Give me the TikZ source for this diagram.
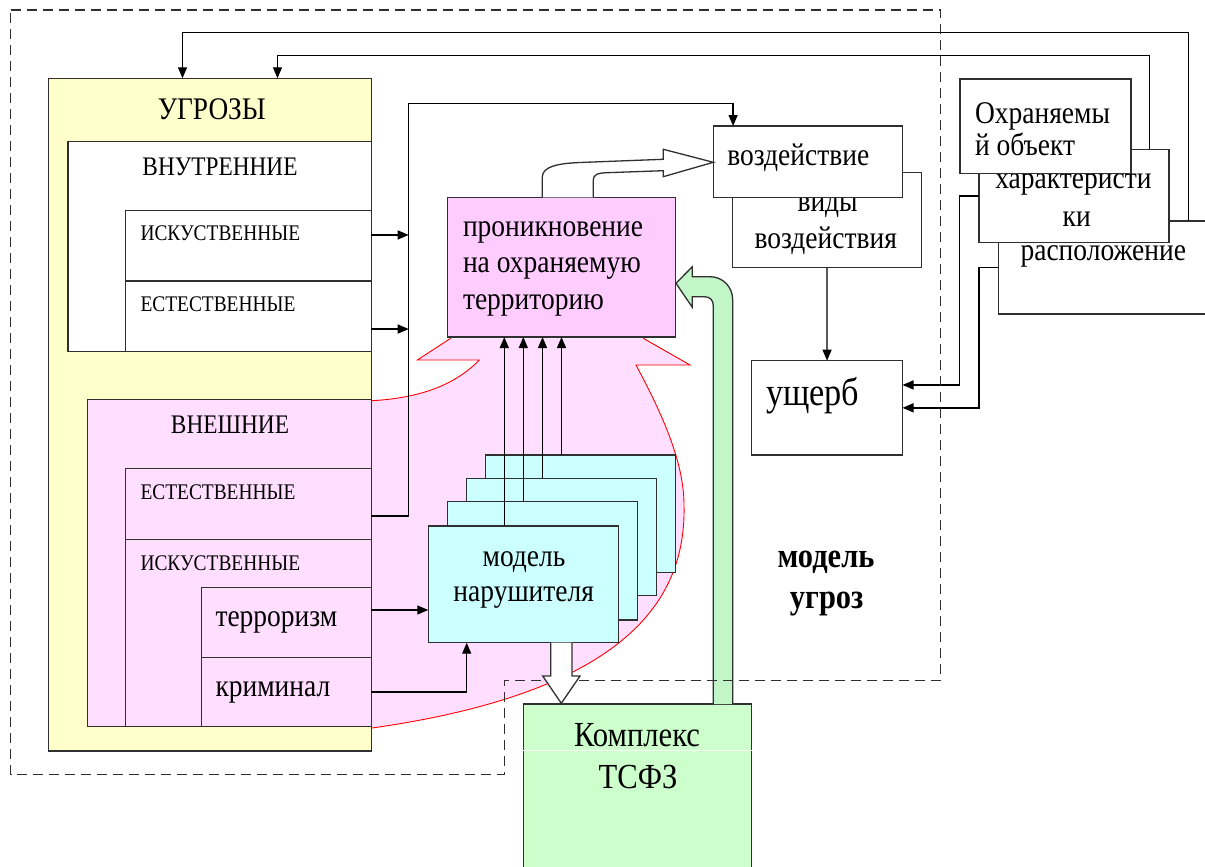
\documentclass[tikz,border=0pt]{standalone}
\usepackage{fontspec}
\setmainfont{Liberation Serif}[FakeStretch=0.87]
\usetikzlibrary{arrows.meta}
\definecolor{yel}{HTML}{FFFFCC}
\definecolor{pinkA}{HTML}{FFCCFF}
\definecolor{pinkB}{HTML}{FFDEFF}
\definecolor{cyanA}{HTML}{CCFFFF}
\definecolor{greenA}{HTML}{CCFFCC}
\definecolor{greenB}{HTML}{C2F5C8}
\definecolor{lineC}{HTML}{303030}
\begin{document}
\begin{tikzpicture}[x=1pt,y=-1pt,
  box/.style={draw=lineC, line width=1.3pt, inner sep=0pt, outer sep=0pt, anchor=north west},
  lbl/.style={inner sep=0pt, outer sep=0pt, anchor=base west, font=\fontsize{31.6}{36}\selectfont},
  clbl/.style={lbl, anchor=base},
  capsT/.style={inner sep=0pt, outer sep=0pt, anchor=base west, font=\fontsize{22.3}{26}\selectfont},
  midT/.style={inner sep=0pt, outer sep=0pt, anchor=base, font=\fontsize{26.8}{30}\selectfont},
  ugrT/.style={inner sep=0pt, outer sep=0pt, anchor=base, font=\fontsize{31.4}{36}\selectfont},
  bigT/.style={inner sep=0pt, outer sep=0pt, anchor=base west, font=\fontsize{39.4}{44}\selectfont},
  komT/.style={inner sep=0pt, outer sep=0pt, anchor=base, font=\fontsize{35.2}{40}\selectfont},
  boldT/.style={inner sep=0pt, outer sep=0pt, anchor=base, font=\bfseries\fontsize{35}{40}\selectfont},
  conn/.style={draw=black, line width=1.3pt},
  arr/.style={conn, -{Triangle[length=11pt,width=9pt]}},
  hollow/.style={draw=lineC, line width=1.3pt, fill=white, line join=miter},
  dashbound/.style={draw=lineC, line width=1.2pt, dash pattern=on 10pt off 6pt},
]
\useasboundingbox (0,0) rectangle (1205,867);
\clip (0,0) rectangle (1205,867);
\fill[white] (0,0) rectangle (1205,867);

% pink blob
\fill[pinkB] (372,400.7) .. controls (420,398) and (455,385) .. (479.3,360) -- (417.3,360) -- (450.7,338.3)
  -- (643.3,338.3) -- (690,365) -- (636,365) .. controls (660,410) and (684,460) .. (684,505)
  .. controls (686,590) and (640,690) .. (372,728) -- cycle;
\draw[red, line width=0.9pt] (372,400.7) .. controls (420,398) and (455,385) .. (479.3,360) -- (417.3,360) -- (450.7,338.3);
\draw[red, line width=0.9pt] (643.3,338.3) -- (690,365) -- (636,365) .. controls (660,410) and (684,460) .. (684,505)
  .. controls (686,590) and (640,690) .. (372,728);

% threats block
\node[box, fill=yel, minimum width=322.6pt, minimum height=672.7pt] (ugr) at (48.6,78.3) {};
\node[box, fill=white, minimum width=303.1pt, minimum height=210.4pt] (vnut) at (68.1,141.3) {};
\node[box, fill=white, minimum width=245.7pt, minimum height=70.7pt] (isk1) at (125.5,210.3) {};
\node[box, fill=white, minimum width=245.7pt, minimum height=70.7pt] (est1) at (125.5,281) {};
\node[box, fill=pinkB, minimum width=283.9pt, minimum height=327.4pt] (vnesh) at (87.3,399.3) {};
\node[box, fill=pinkB, minimum width=245.7pt, minimum height=71pt] (est2) at (125.5,468.3) {};
\node[box, fill=pinkB, minimum width=245.7pt, minimum height=187.4pt] (isk2) at (125.5,539.3) {};
\node[box, fill=pinkB, minimum width=169.5pt, minimum height=70pt] (terr) at (201.7,587.3) {};
\node[box, fill=pinkB, minimum width=169.5pt, minimum height=69.4pt] (krim) at (201.7,657.3) {};

\node[ugrT] (tU) at (211.8,119.3) {УГРОЗЫ};
\node[midT] (tV) at (220,175.5) {ВНУТРЕННИЕ};
\node[capsT] (tI1) at (140.5,240.7) {ИСКУСТВЕННЫЕ};
\node[capsT] (tE1) at (140.5,311.7) {ЕСТЕСТВЕННЫЕ};
\node[midT] (tVn) at (230,433.3) {ВНЕШНИЕ};
\node[capsT] (tE2) at (140.5,499.3) {ЕСТЕСТВЕННЫЕ};
\node[capsT] (tI2) at (140.5,570) {ИСКУСТВЕННЫЕ};
\node[lbl] (tT) at (215.5,626) {терроризм};
\node[lbl] (tK) at (215.5,696.7) {криминал};

% penetration box
\node[box, fill=pinkA, minimum width=228.4pt, minimum height=139.7pt] (pron) at (447.3,197.3) {};
\node[lbl] (tP1) at (463,236) {проникновение};
\node[lbl] (tP2) at (463,272.7) {на охраняемую};
\node[lbl] (tP3) at (463,309.3) {территорию};

% intruder models
\node[box, fill=cyanA, minimum width=190pt, minimum height=117.3pt] (m4) at (485.7,455) {};
\node[box, fill=cyanA, minimum width=190pt, minimum height=117pt] (m3) at (466.7,478.3) {};
\node[box, fill=cyanA, minimum width=190.4pt, minimum height=118.3pt] (m2) at (447.3,501.7) {};
\node[box, fill=cyanA, minimum width=190.4pt, minimum height=116.7pt] (m1) at (428.3,526) {};
\node[clbl] (tM1) at (524,566) {модель};
\node[clbl] (tM2) at (523.7,601.7) {нарушителя};

\draw[arr] ([xshift=76pt]m1.north west) -- ([xshift=76pt]m1.north west |- pron.south);
\draw[arr] ([xshift=76pt]m2.north west) -- ([xshift=76pt]m2.north west |- pron.south);
\draw[arr] ([xshift=75.8pt]m3.north west) -- ([xshift=75.8pt]m3.north west |- pron.south);
\draw[arr] ([xshift=75.8pt]m4.north west) -- ([xshift=75.8pt]m4.north west |- pron.south);

% impact boxes
\node[box, fill=white, minimum width=188.7pt, minimum height=95.4pt] (vidy) at (732.7,172.3) {};
\node[clbl] (tVi1) at (827.6,211.7) {виды};
\node[clbl] (tVi2) at (825.7,248.3) {воздействия};
\node[box, fill=white, minimum width=188.7pt, minimum height=71.3pt] (vozd) at (713.8,126) {};
\node[lbl] (tVo) at (727.3,165) {воздействие};

% hollow arrow penetration -> impact
\path[hollow] (542.3,197.3) -- (542.3,177) .. controls (542.3,166) and (560,163.3) .. (580,162.5)
  -- (663.3,159.3) -- (663.3,149.3) -- (713.3,162.3) -- (663.3,176.7) -- (663.3,170.7)
  -- (607,172.7) .. controls (597,173) and (593.3,175) .. (593.3,180) -- (593.3,197.3);

% damage
\node[box, fill=white, minimum width=150.9pt, minimum height=94.3pt] (ush) at (751.6,360.7) {};
\node[bigT] (tUs) at (766,405) {ущерб};

% protected object boxes
\node[box, fill=white, minimum width=220pt, minimum height=93pt] (ras) at (998.3,221) {};
\node[clbl] (tR) at (1103.3,260) {расположение};
\node[box, fill=white, minimum width=190pt, minimum height=93.4pt] (har) at (979,149.3) {};
\node[clbl] (tH1) at (1073.4,188.3) {характеристи};
\node[clbl] (tH2) at (1076.7,226.7) {ки};
\node[box, fill=white, minimum width=171pt, minimum height=94.3pt] (ohr) at (960,79) {};
\node[lbl] (tO1) at (975,123.3) {Охраняемы};
\node[lbl] (tO2) at (975,155) {й объект};

% model of threats label
\node[boldT] (tMU1) at (826,567.3) {модель};
\node[boldT] (tMU2) at (826.7,608.3) {угроз};

% connectors
\coordinate (busTop) at (408.7,103.3);
\draw[arr] ([yshift=10.7pt]isk1.east) -- ([yshift=10.7pt]isk1.east -| busTop);
\draw[arr] ([yshift=-12.7pt]est1.east) -- ([yshift=-12.7pt]est1.east -| busTop);
\draw[arr] ([yshift=-12.2pt]est2.east) -| (busTop) -| ([xshift=19.3pt]vozd.north west);
\draw[arr] ([yshift=12.3pt]terr.east) -- ([yshift=12.3pt]terr.east -| m1.west);
\draw[arr] (krim.east) -| ([xshift=38.4pt]m1.south west);
\draw[arr] (vidy.south) -- (ush.north);
\draw[arr] (har.west) -- ++(-19.4,0) |- ([yshift=22.9pt]ush.east);
\draw[arr] (ras.west) -- ++(-19.4,0) |- (ush.east);
\draw[arr] ([xshift=190pt]ras.north west) -- ++(0,-188.7) -| ([xshift=133.9pt]ugr.north west);
\draw[arr] ([xshift=170.8pt]har.north west) -- ++(0,-93.6) -| ([xshift=228.9pt]ugr.north west);

% complex TSFZ
\node[box, fill=greenA, minimum width=228.4pt, minimum height=180pt] (kompl) at (523.3,704) {};
\draw[white, line width=0.8pt] (kompl.west |- 0,750) -- (kompl.east |- 0,750);
\node[komT] (tK1) at (637,746.7) {Комплекс};
\node[komT] (tK2) at (638,788.3) {ТСФЗ};

% green bent arrow
\path[draw=lineC, line width=1.3pt, fill=greenB, line join=miter]
  (713.3,704) -- (713.3,306) .. controls (713.3,300) and (710,296.7) .. (704,296.7) -- (692.3,296.7)
  -- (692.3,307.3) -- (676,283.3) -- (692.3,266.7) -- (692.3,276.7) -- (710,276.7)
  .. controls (723,276.7) and (732.7,287) .. (732.7,300) -- (732.7,704);

% dashed boundary
\draw[dashbound] (10.7,10) -- (940.7,10) -- (940.7,680.5) -- (504.5,680.5) -- (504.5,774.5) -- (10.7,774.5) -- cycle;

% hollow arrow model -> complex
\path[hollow] (550.7,642.7) -- (550.7,676) -- (542.7,676) -- (561.3,703.3) -- (580,676) -- (572,676) -- (572,642.7);
\end{tikzpicture}
\end{document}
